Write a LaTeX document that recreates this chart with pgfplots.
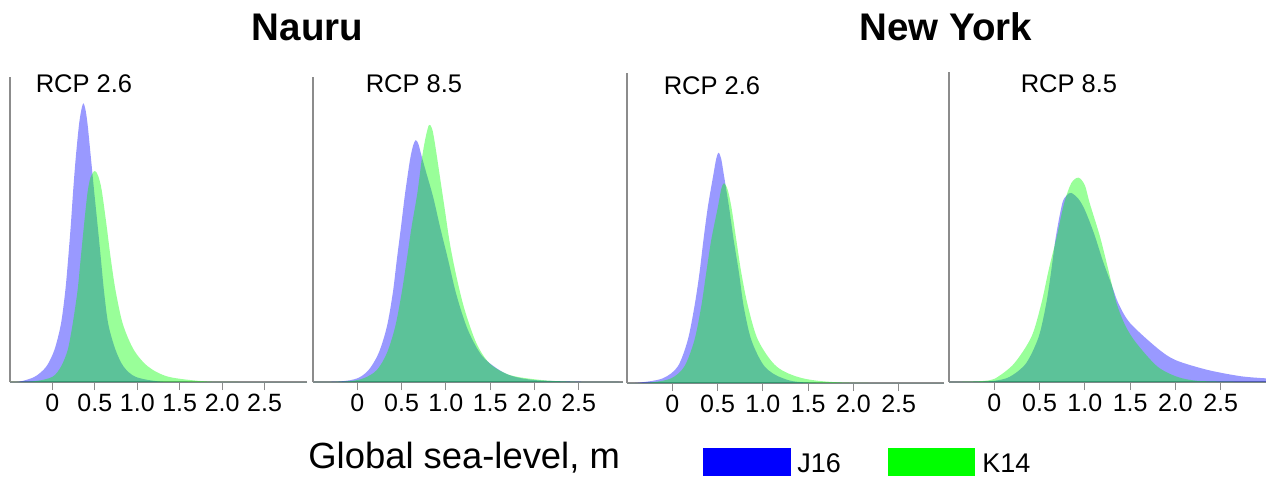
\documentclass[border=0pt]{standalone}
\usepackage{fontspec}
\setmainfont{Liberation Sans}
\usepackage{pgfplots}
\pgfplotsset{compat=1.18}
\usepackage{pgfplotstable}

\pgfplotstableread{
x y
-0.5 0
-0.39 0.001
-0.21 0.017
-0.074 0.05
0.023 0.105
0.10 0.19
0.152 0.30
0.187 0.41
0.218 0.52
0.245 0.63
0.276 0.739
0.315 0.848
0.345 0.898
0.366 0.914
0.388 0.895
0.413 0.848
0.45 0.745
0.49 0.63
0.53 0.52
0.569 0.41
0.607 0.30
0.658 0.19
0.744 0.105
0.84 0.05
0.98 0.017
1.25 0.002
1.6 0
3.0 0
}\pOneJ
\pgfplotstableread{
x y
-0.5 0
-0.2 0.003
0.0 0.017
0.10 0.05
0.18 0.105
0.238 0.19
0.296 0.30
0.335 0.41
0.374 0.52
0.413 0.62
0.45 0.672
0.50 0.692
0.54 0.675
0.58 0.63
0.635 0.52
0.685 0.41
0.744 0.30
0.83 0.19
0.96 0.105
1.13 0.05
1.37 0.017
1.8 0.002
2.2 0
3.0 0
}\pOneK
\pgfplotstableread{
x y
-0.5 0
-0.19 0.002
0.0 0.012
0.127 0.039
0.24 0.094
0.333 0.18
0.40 0.29
0.446 0.40
0.494 0.51
0.54 0.619
0.595 0.728
0.63 0.775
0.66 0.793
0.69 0.78
0.727 0.74
0.78 0.685
0.858 0.605
0.933 0.51
1.026 0.40
1.12 0.285
1.25 0.17
1.42 0.082
1.68 0.027
1.98 0.007
2.5 0.001
3.0 0
}\pTwoJ
\pgfplotstableread{
x y
-0.5 0
-0.12 0.002
0.07 0.012
0.22 0.039
0.333 0.094
0.427 0.18
0.50 0.29
0.558 0.40
0.614 0.51
0.678 0.619
0.727 0.728
0.77 0.80
0.81 0.843
0.845 0.83
0.876 0.783
0.933 0.673
0.989 0.564
1.045 0.455
1.12 0.345
1.213 0.236
1.345 0.127
1.494 0.061
1.72 0.023
2.06 0.007
2.43 0.001
3.0 0
}\pTwoK
\pgfplotstableread{
x y
-0.5 0
-0.37 0.001
-0.107 0.015
0.06 0.054
0.17 0.14
0.244 0.25
0.30 0.36
0.344 0.469
0.393 0.578
0.456 0.687
0.485 0.735
0.511 0.755
0.54 0.735
0.567 0.687
0.626 0.578
0.678 0.469
0.737 0.36
0.789 0.25
0.874 0.14
1.02 0.054
1.226 0.015
1.56 0.001
3.0 0
}\pThreeJ
\pgfplotstableread{
x y
-0.5 0
-0.26 0.001
-0.015 0.015
0.133 0.054
0.244 0.14
0.319 0.25
0.374 0.36
0.43 0.469
0.504 0.578
0.54 0.635
0.57 0.655
0.61 0.635
0.652 0.578
0.707 0.469
0.763 0.36
0.837 0.25
0.948 0.14
1.152 0.054
1.448 0.015
1.93 0.001
3.0 0
}\pThreeK
\pgfplotstableread{
x y
-0.5 0
-0.2 0.001
0.0 0.004
0.17 0.017
0.35 0.061
0.49 0.148
0.574 0.258
0.63 0.367
0.68 0.477
0.75 0.585
0.80 0.612
0.85 0.62
0.93 0.60
1.0 0.564
1.1 0.488
1.2 0.396
1.3 0.315
1.37 0.258
1.5 0.193
1.8 0.111
2.0 0.072
2.35 0.040
2.72 0.019
3.0 0.012
}\pFourJ
\pgfplotstableread{
x y
-0.5 0
-0.2 0.002
-0.05 0.006
0.04 0.017
0.22 0.061
0.41 0.148
0.52 0.258
0.60 0.367
0.69 0.477
0.77 0.585
0.85 0.652
0.93 0.67
1.0 0.645
1.055 0.585
1.167 0.477
1.26 0.367
1.35 0.258
1.45 0.183
1.57 0.127
1.8 0.051
2.02 0.017
2.24 0.004
2.6 0.001
3.0 0
}\pFourK

\pgfplotsset{
  panel/.style={
    scale only axis,
    anchor=south west,
    axis lines=left,
    axis line style={-, draw=gray!90, line width=0.6pt},
    xmin=-0.5, xmax=3.0, ymin=0,
    ytick=\empty,
    xtick={0,0.5,1,1.5,2,2.5},
    xticklabels={0,0.5,1.0,1.5,2.0,2.5},
    tick align=outside,
    major tick length=4pt,
    x tick style={draw=gray!90, line width=0.5pt},
    xticklabel style={font=\fontsize{12.5}{12.5}\selectfont, text=black, yshift=1.5pt},
  },
  jsix/.style={draw=none, fill=blue, fill opacity=0.4, smooth, tension=0.5},
  kfour/.style={draw=none, fill=green, fill opacity=0.4, smooth, tension=0.5},
}

\begin{document}
\begin{tikzpicture}
\useasboundingbox (0,0) rectangle (633pt,-238.5pt);

\begin{axis}[panel, at={(5pt,-191pt)}, width=148.5pt, height=152.5pt, ymax=1]
\addplot[jsix] table {\pOneJ} \closedcycle;
\addplot[kfour] table {\pOneK} \closedcycle;
\end{axis}

\begin{axis}[panel, at={(156.5pt,-191pt)}, width=155pt, height=152.5pt, ymax=1]
\addplot[jsix] table {\pTwoJ} \closedcycle;
\addplot[kfour] table {\pTwoK} \closedcycle;
\end{axis}

\begin{axis}[panel, at={(313.5pt,-191.5pt)}, width=158.5pt, height=155pt, ymax=1.0164]
\addplot[jsix] table {\pThreeJ} \closedcycle;
\addplot[kfour] table {\pThreeK} \closedcycle;
\end{axis}

\begin{axis}[panel, at={(474.5pt,-191pt)}, width=158.5pt, height=155pt, ymax=1.0164]
\addplot[jsix] table {\pFourJ} \closedcycle;
\addplot[kfour] table {\pFourK} \closedcycle;
\end{axis}

\node[anchor=base, inner sep=0, font=\bfseries\fontsize{19.25}{19.25}\selectfont] at (153.75pt,-20pt) {Nauru};
\node[anchor=base, inner sep=0, font=\bfseries\fontsize{19.25}{19.25}\selectfont] at (473pt,-20pt) {New York};

\node[anchor=base, inner sep=0, font=\fontsize{12.75}{12.75}\selectfont] at (42pt,-46pt) {RCP 2.6};
\node[anchor=base, inner sep=0, font=\fontsize{12.75}{12.75}\selectfont] at (207pt,-46pt) {RCP 8.5};
\node[anchor=base, inner sep=0, font=\fontsize{12.75}{12.75}\selectfont] at (356pt,-47pt) {RCP 2.6};
\node[anchor=base, inner sep=0, font=\fontsize{12.75}{12.75}\selectfont] at (534.5pt,-46pt) {RCP 8.5};

\node[anchor=base west, inner sep=0, font=\fontsize{18.2}{18.2}\selectfont] at (154pt,-234pt) {Global sea-level, m};
\fill[blue] (351.5pt,-224pt) rectangle (395.5pt,-238pt);
\node[anchor=base west, inner sep=0, font=\fontsize{13.5}{13.5}\selectfont] at (398.5pt,-236pt) {J16};
\fill[green] (444pt,-224pt) rectangle (487.5pt,-238pt);
\node[anchor=base west, inner sep=0, font=\fontsize{13.5}{13.5}\selectfont] at (491pt,-236pt) {K14};
\end{tikzpicture}
\end{document}
